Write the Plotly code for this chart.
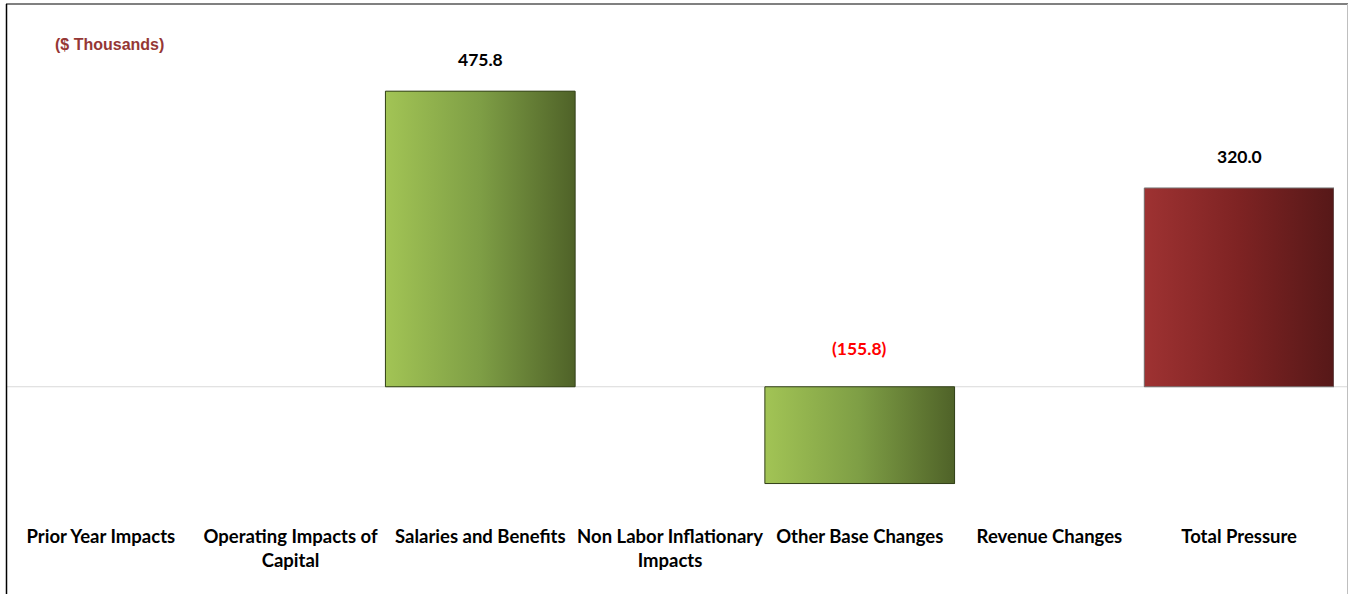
import plotly.graph_objects as go

categories = ["Prior Year Impacts", "Operating Impacts of<br>Capital", "Salaries and Benefits",
              "Non Labor Inflationary<br>Impacts", "Other Base Changes", "Revenue Changes", "Total Pressure"]
values = [0, 0, 475.8, 0, -155.8, 0, 320.0]
label_text = ["", "", "475.8", "", "(155.8)", "", "320.0"]
is_total = [False, False, False, False, False, False, True]

green_grad = [[0, "#A2C455"], [0.5, "#7E9E45"], [1, "#4F6228"]]
red_grad = [[0, "#9E3232"], [0.5, "#7E2323"], [1, "#561818"]]

fig = go.Figure()

W = 1.0  # full category width
idx = list(range(len(categories)))

# bar trace carrying the data on the axis
fig.add_trace(go.Bar(x=idx, y=values, width=W,
                     marker=dict(color=["#9E3232" if t else "#8AAA4C" for t in is_total],
                                 line=dict(width=0)),
                     hoverinfo="x+y", showlegend=False))

# gradient overlay for each non-zero bar, derived from the same arrays
for i, v in enumerate(values):
    if v == 0:
        continue
    x0, x1 = i - W / 2, i + W / 2
    fig.add_trace(go.Scatter(
        x=[x0, x1, x1, x0, x0], y=[0, 0, v, v, 0],
        mode="lines", fill="toself",
        fillgradient=dict(type="horizontal", colorscale=red_grad if is_total[i] else green_grad),
        line=dict(color="#33401A" if not is_total[i] else "#7A7A7A", width=1),
        hoverinfo="skip", showlegend=False))

# value labels
for i, v in enumerate(values):
    if not label_text[i]:
        continue
    fig.add_annotation(x=i, y=max(v, 0), text=f"<b>{label_text[i]}</b>", showarrow=False,
                       yanchor="bottom", yshift=19 if v > 0 else 26,
                       font=dict(family="Lato, Open Sans, sans-serif", size=17.5,
                                 color="#000000" if v > 0 else "#FF0000"))

fig.add_annotation(xref="paper", yref="paper", x=(53 - 6) / 1328, y=(511 - 45) / 497,
                   xanchor="left", yanchor="middle", showarrow=False,
                   text="<b>($ Thousands)</b>",
                   font=dict(family="Liberation Sans Narrow, Arial Narrow, sans-serif", size=16, color="#953735"))

# frame
fig.add_shape(type="line", xref="paper", yref="paper", x0=(6 - 6) / 1328, x1=(1348 - 6) / 1328,
              y0=(511 - 4) / 497, y1=(511 - 4) / 497, line=dict(color="#808080", width=2))
fig.add_shape(type="line", xref="paper", yref="paper", x0=(6.5 - 6) / 1328, x1=(6.5 - 6) / 1328,
              y0=(511 - 4) / 497, y1=-0.3, line=dict(color="#000000", width=1.5))
fig.add_shape(type="line", xref="paper", yref="paper", x0=(1347.5 - 6) / 1328, x1=(1347.5 - 6) / 1328,
              y0=(511 - 4) / 497, y1=-0.3, line=dict(color="#BFBFBF", width=1))
# zero line across the frame
fig.add_shape(type="line", xref="paper", yref="y", x0=(7 - 6) / 1328, x1=(1347 - 6) / 1328,
              y0=0, y1=0, line=dict(color="#D9D9D9", width=1), layer="below")

fig.update_layout(
    width=1349, height=594,
    margin=dict(l=6, r=15, t=14, b=83),
    paper_bgcolor="white", plot_bgcolor="white",
    bargap=0,
    xaxis=dict(range=[-0.5, 6.5], tickmode="array", tickvals=idx, ticktext=[f"<b>{c}</b>" for c in categories],
               showgrid=False, zeroline=False, showline=False, ticks="",
               ticklabelstandoff=12,
               tickfont=dict(family="Lato, Open Sans, sans-serif", size=18.5, color="#000000")),
    yaxis=dict(range=[-200, 600], showgrid=False, zeroline=False, showticklabels=False, showline=False),
)

fig.write_html("out.html", config={"displayModeBar": False},
               post_script="document.body.style.margin='0';document.body.style.overflow='hidden';")
